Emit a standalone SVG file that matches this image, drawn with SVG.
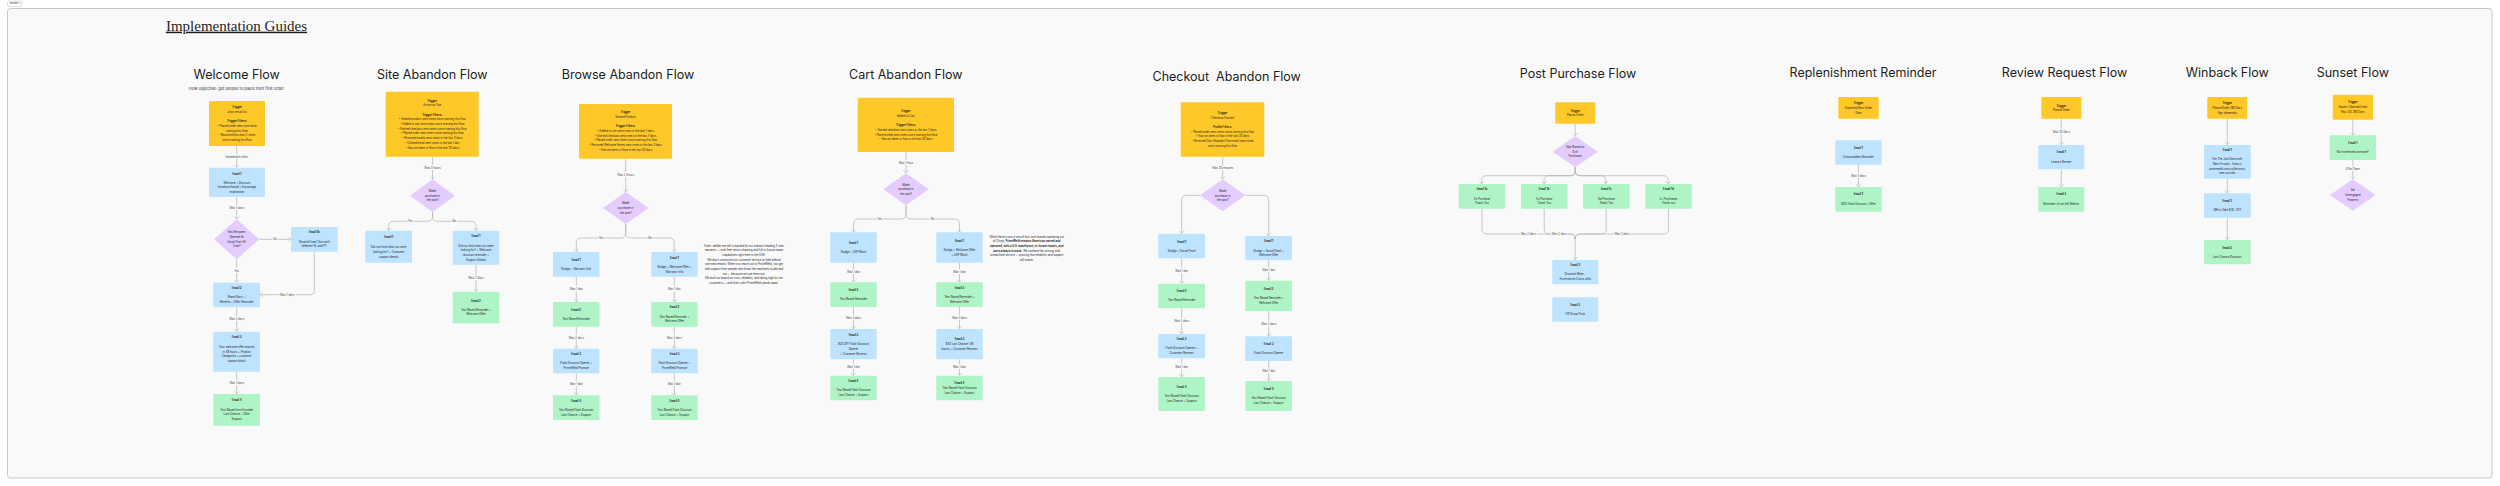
<svg xmlns="http://www.w3.org/2000/svg" width="2500" height="486" viewBox="0 0 2500 486">
<style>
.ttl{font-family:Inter,"Noto Sans",sans-serif;font-size:12.5px;fill:#1e1e1e;text-anchor:middle}
.t{font-family:Inter,"Noto Sans",sans-serif;font-size:2.75px;fill:#1e1e1e;text-anchor:middle;dominant-baseline:central}
.b{font-weight:700}
.lb{font-family:Inter,"Noto Sans",sans-serif;font-size:2.75px;fill:#444;text-anchor:middle;dominant-baseline:central;stroke:#F9F9F9;stroke-width:2;paint-order:stroke}
.c{fill:none;stroke:#B3B3B3;stroke-width:0.7}
.y{fill:#FFC829}.bl{fill:#BDE3FF}.g{fill:#AFF4C6}.p{fill:#E4CCFF}
</style>
<defs>
<marker id="ah" viewBox="-3 -3 3.5 6" refX="0" refY="0" markerWidth="3.5" markerHeight="6" markerUnits="userSpaceOnUse" orient="auto">
<path d="M-2.5,-2.5 L0,0 L-2.5,2.5" fill="none" stroke="#B3B3B3" stroke-width="0.6"/>
</marker>
</defs>
<rect x="0" y="0" width="2500" height="486" fill="#FFFFFF"/>
<g id="frame">
<rect x="7.5" y="8.5" width="2484.5" height="469.5" rx="3" fill="#F9F9F9" stroke="#C8C8C8" stroke-width="1"/>
<rect x="7.5" y="1.2" width="14.5" height="5.3" rx="1.5" fill="#FFFFFF" stroke="#BBBBBB" stroke-width="0.5"/>
<text x="14.7" y="3.9" class="t" style="font-size:2.3px">Section 1</text>
</g>
<g id="header">
<text x="236.5" y="30.7" style="font-family:'Liberation Serif',serif;font-size:15px;fill:#1e1e1e;text-anchor:middle;text-decoration:underline">Implementation Guides</text>
</g>
<g id="titles">
<text class="ttl" x="236.7" y="79.3">Welcome Flow</text>
<text x="236.3" y="89.5" style="font-family:Inter,'Noto Sans',sans-serif;font-size:4px;fill:#333;text-anchor:middle">Flow objective: get people to place their first order</text>
<text class="ttl" x="432.3" y="79.3">Site Abandon Flow</text>
<text class="ttl" x="628" y="79.3">Browse Abandon Flow</text>
<text class="ttl" x="905.8" y="79.3">Cart Abandon Flow</text>
<text class="ttl" x="1226.7" y="81.3" xml:space="preserve">Checkout  Abandon Flow</text>
<text class="ttl" x="1578" y="78.3">Post Purchase Flow</text>
<text class="ttl" x="1863" y="77.3">Replenishment Reminder</text>
<text class="ttl" x="2064.5" y="77.3">Review Request Flow</text>
<text class="ttl" x="2227.2" y="77.3">Winback Flow</text>
<text class="ttl" x="2352.8" y="77.3">Sunset Flow</text>
</g>
<g id="connectors">
<!-- Welcome -->
<path class="c" d="M236.7,146 V167.4" marker-end="url(#ah)"/>
<text class="lb" x="236.7" y="157">Immediately after</text>
<path class="c" d="M236.7,197 V219" marker-end="url(#ah)"/>
<text class="lb" x="236.7" y="208.3">Wait 1 days</text>
<path class="c" d="M259.3,239.3 H290.7" marker-end="url(#ah)"/>
<text class="lb" x="275" y="239.3">No</text>
<path class="c" d="M236.7,259.3 V282.4" marker-end="url(#ah)"/>
<text class="lb" x="236.7" y="271">Yes</text>
<path class="c" d="M314.3,251.7 V291.7 Q314.3,294.7 311.3,294.7 H260.3" marker-end="url(#ah)"/>
<text class="lb" x="287.3" y="294.7">Wait 1 days</text>
<path class="c" d="M236.7,307.3 V331.4" marker-end="url(#ah)"/>
<text class="lb" x="236.7" y="319.3">Wait 2 days</text>
<path class="c" d="M236.7,371.7 V393.7" marker-end="url(#ah)"/>
<text class="lb" x="236.7" y="382.7">Wait 1 days</text>
<!-- Site -->
<path class="c" d="M432.5,156.7 V179" marker-end="url(#ah)"/>
<text class="lb" x="432.5" y="168">Wait 3 hours</text>
<path class="c" d="M432.5,212 V216.3 Q432.5,221.3 427.5,221.3 H393.7 Q388.7,221.3 388.7,226.3 V230.4" marker-end="url(#ah)"/>
<path class="c" d="M432.5,212 V216.3 Q432.5,221.3 437.5,221.3 H471 Q476,221.3 476,226.3 V230.4" marker-end="url(#ah)"/>
<text class="lb" x="410.3" y="221.3">Yes</text>
<text class="lb" x="454" y="221.3">No</text>
<path class="c" d="M476,264.7 V291.4" marker-end="url(#ah)"/>
<text class="lb" x="476" y="278.3">Wait 2 Days</text>
<!-- Browse -->
<path class="c" d="M625.7,158.7 V191.7" marker-end="url(#ah)"/>
<text class="lb" x="625.7" y="175">Wait 2 Hours</text>
<path class="c" d="M625.7,224 V233 Q625.7,238 620.7,238 H581.3 Q576.3,238 576.3,243 V251.7" marker-end="url(#ah)"/>
<path class="c" d="M625.7,224 V233 Q625.7,238 630.7,238 H669.3 Q674.3,238 674.3,243 V251.7" marker-end="url(#ah)"/>
<text class="lb" x="601" y="238">Yes</text>
<text class="lb" x="650" y="238">No</text>
<path class="c" d="M576.3,276.7 V301.7" marker-end="url(#ah)"/>
<path class="c" d="M674.3,276.7 V301.7" marker-end="url(#ah)"/>
<text class="lb" x="576.3" y="289.3">Wait 1 day</text>
<text class="lb" x="674.3" y="289.3">Wait 1 day</text>
<path class="c" d="M576.3,326.7 V348.4" marker-end="url(#ah)"/>
<path class="c" d="M674.3,326.7 V348.4" marker-end="url(#ah)"/>
<text class="lb" x="576.3" y="337.7">Wait 2 days</text>
<text class="lb" x="674.3" y="337.7">Wait 2 days</text>
<path class="c" d="M576.3,373.3 V395" marker-end="url(#ah)"/>
<path class="c" d="M674.3,373.3 V395" marker-end="url(#ah)"/>
<text class="lb" x="576.3" y="384.3">Wait 1 day</text>
<text class="lb" x="674.3" y="384.3">Wait 1 day</text>
<!-- Cart -->
<path class="c" d="M906,152 V173" marker-end="url(#ah)"/>
<text class="lb" x="906" y="162.7">Wait 1 Hour</text>
<path class="c" d="M906,205.3 V214 Q906,219 901,219 H858.5 Q853.5,219 853.5,224 V232" marker-end="url(#ah)"/>
<path class="c" d="M906,205.3 V214 Q906,219 911,219 H954.5 Q959.5,219 959.5,224 V232" marker-end="url(#ah)"/>
<text class="lb" x="879.7" y="219">Yes</text>
<text class="lb" x="932.7" y="219">No</text>
<path class="c" d="M853.5,262.7 V282" marker-end="url(#ah)"/>
<path class="c" d="M959.5,262.7 V282" marker-end="url(#ah)"/>
<text class="lb" x="853.5" y="272.3">Wait 1 day</text>
<text class="lb" x="959.5" y="272.3">Wait 1 day</text>
<path class="c" d="M853.5,307 V328.7" marker-end="url(#ah)"/>
<path class="c" d="M959.5,307 V328.7" marker-end="url(#ah)"/>
<text class="lb" x="853.5" y="317.7">Wait 2 days</text>
<text class="lb" x="959.5" y="317.7">Wait 2 days</text>
<path class="c" d="M853.5,359.3 V375.4" marker-end="url(#ah)"/>
<path class="c" d="M959.5,359.3 V375.4" marker-end="url(#ah)"/>
<text class="lb" x="853.5" y="367.3">Wait 1 day</text>
<text class="lb" x="959.5" y="367.3">Wait 1 day</text>
<!-- Checkout -->
<path class="c" d="M1222.7,156.7 V179" marker-end="url(#ah)"/>
<text class="lb" x="1222.7" y="167.7">Wait 30 minutes</text>
<path class="c" d="M1200,195.3 H1186.7 Q1181.7,195.3 1181.7,200.3 V233.4" marker-end="url(#ah)"/>
<path class="c" d="M1245.3,195.3 H1263.7 Q1268.7,195.3 1268.7,200.3 V235.7" marker-end="url(#ah)"/>
<path class="c" d="M1181.7,258.3 V283.4" marker-end="url(#ah)"/>
<text class="lb" x="1181.7" y="271">Wait 1 day</text>
<path class="c" d="M1181.7,308.3 V333.7" marker-end="url(#ah)"/>
<text class="lb" x="1181.7" y="321">Wait 2 days</text>
<path class="c" d="M1181.7,358.3 V376.7" marker-end="url(#ah)"/>
<text class="lb" x="1181.7" y="367.3">Wait 1 day</text>
<path class="c" d="M1268.7,260.3 V280.4" marker-end="url(#ah)"/>
<text class="lb" x="1268.7" y="270.3">Wait 1 day</text>
<path class="c" d="M1268.7,311 V336" marker-end="url(#ah)"/>
<text class="lb" x="1268.7" y="323.7">Wait 2 days</text>
<path class="c" d="M1268.7,361 V380.7" marker-end="url(#ah)"/>
<text class="lb" x="1268.7" y="371">Wait 1 day</text>
<!-- Post Purchase -->
<path class="c" d="M1575.2,123.7 V135.7" marker-end="url(#ah)"/>
<path class="c" d="M1575.2,167.3 V170.7 Q1575.2,175.7 1570.2,175.7 H1486.7 Q1481.7,175.7 1481.7,180.7 V183.7" marker-end="url(#ah)"/>
<path class="c" d="M1575.2,167.3 V170.7 Q1575.2,175.7 1570.2,175.7 H1549 Q1544,175.7 1544,180.7 V183.7" marker-end="url(#ah)"/>
<path class="c" d="M1575.2,167.3 V170.7 Q1575.2,175.7 1580.2,175.7 H1600.7 Q1605.7,175.7 1605.7,180.7 V183.7" marker-end="url(#ah)"/>
<path class="c" d="M1575.2,167.3 V170.7 Q1575.2,175.7 1580.2,175.7 H1663.3 Q1668.3,175.7 1668.3,180.7 V183.7" marker-end="url(#ah)"/>
<path class="c" d="M1482,208.7 V229 Q1482,234 1487,234 H1570.2 Q1575.2,234 1575.2,239 V259.7" marker-end="url(#ah)"/>
<path class="c" d="M1544.2,208.7 V229 Q1544.2,234 1549.2,234 H1570.2 Q1575.2,234 1575.2,239"/>
<path class="c" d="M1606.2,208.7 V229 Q1606.2,234 1601.2,234 H1580.2 Q1575.2,234 1575.2,239"/>
<path class="c" d="M1668.5,208.7 V229 Q1668.5,234 1663.5,234 H1580.2 Q1575.2,234 1575.2,239"/>
<text class="lb" x="1528.3" y="234">Wait 2 days</text>
<text class="lb" x="1559.3" y="234">Wait 2 days</text>
<text class="lb" x="1622" y="234">Wait 2 days</text>
<!-- Replenishment -->
<path class="c" d="M1858.5,164.7 V186.7" marker-end="url(#ah)"/>
<text class="lb" x="1858.5" y="176">Wait 7 days</text>
<!-- Review -->
<path class="c" d="M2061.3,118.7 V144.7" marker-end="url(#ah)"/>
<text class="lb" x="2061.3" y="131.7">Wait 30 Days</text>
<path class="c" d="M2061.3,169.3 V186.7" marker-end="url(#ah)"/>
<!-- Winback -->
<path class="c" d="M2227.3,118.7 V144.7" marker-end="url(#ah)"/>
<path class="c" d="M2227.3,178.7 V193" marker-end="url(#ah)"/>
<path class="c" d="M2227.3,217.7 V239.7" marker-end="url(#ah)"/>
<!-- Sunset -->
<path class="c" d="M2352.8,119.7 V135" marker-end="url(#ah)"/>
<path class="c" d="M2352.8,160 V179" marker-end="url(#ah)"/>
<text class="lb" x="2352.8" y="169.3">If No Open</text>
</g>

<!-- ===== Welcome Flow ===== -->
<g id="w-trigger">
<rect class="y" x="209" y="101" width="56" height="45" rx="1"/>
<text class="t b" x="237" y="107">Trigger</text>
<text class="t" x="237" y="112">Joins email list</text>
<text class="t b" x="237" y="121">Trigger Filters:</text>
<text class="t" x="237" y="126">•  Placed order zero time since</text>
<text class="t" x="237" y="130.7">starting this flow</text>
<text class="t" x="237" y="135.3">•  Bounced less than 2 times</text>
<text class="t" x="237" y="140">since starting this flow</text>
</g>
<g id="w-email1">
<rect class="bl" x="209" y="167.7" width="56" height="29.3" rx="1"/>
<text class="t b" x="237" y="173.7">Email 1</text>
<text class="t" x="237" y="182.7">Welcome + Discount</text>
<text class="t" x="237" y="187.3">Introduce brand + Encourage</text>
<text class="t" x="237" y="192">exploration</text>
</g>
<g id="w-split">
<polygon class="p" points="236.7,219.3 259.3,239.3 236.7,259.3 214,239.3"/>
<text class="t" x="236.7" y="232.3">Has Recipient</text>
<text class="t" x="236.7" y="237">Opened An</text>
<text class="t" x="236.7" y="241.7">Email Over All</text>
<text class="t" x="236.7" y="246.4">Time?</text>
</g>
<g id="w-email1b">
<rect class="bl" x="291" y="227" width="46.7" height="24.7" rx="1"/>
<text class="t b" x="314.3" y="232.3">Email 1b</text>
<text class="t" x="314.3" y="241.7">Resend Email 1 but with</text>
<text class="t" x="314.3" y="246.3">different SL and PT</text>
</g>
<g id="w-email2">
<rect class="bl" x="213.3" y="282.7" width="46.7" height="24.6" rx="1"/>
<text class="t b" x="236.7" y="287.7">Email 2</text>
<text class="t" x="236.7" y="297">Brand Story +</text>
<text class="t" x="236.7" y="301.7">Benefits + Offer Reminder</text>
</g>
<g id="w-email3">
<rect class="bl" x="213.3" y="331.7" width="46.7" height="40" rx="1"/>
<text class="t b" x="236.7" y="337.3">Email 3</text>
<text class="t" x="236.7" y="347">Your welcome offer expires</text>
<text class="t" x="236.7" y="351.7">in 48 hours + Product</text>
<text class="t" x="236.7" y="356.3">Categories + customer</text>
<text class="t" x="236.7" y="361">support block</text>
</g>
<g id="w-email4">
<rect class="g" x="213.3" y="394" width="46.7" height="31.7" rx="1"/>
<text class="t b" x="236.7" y="400.3">Email 4</text>
<text class="t" x="236.7" y="409.7">Text Based from Founder</text>
<text class="t" x="236.7" y="414.3">Last Chance + Offer</text>
<text class="t" x="236.7" y="419">Support</text>
</g>

<!-- ===== Site Abandon ===== -->
<g id="s-trigger">
<rect class="y" x="385.7" y="91.7" width="93" height="65" rx="1"/>
<text class="t b" x="432.2" y="100.7">Trigger</text>
<text class="t" x="432.2" y="105.3">Active on Site</text>
<text class="t b" x="432.2" y="114.7">Trigger Filters:</text>
<text class="t" x="432.2" y="119.3">•  Viewed product zero times since starting this flow</text>
<text class="t" x="432.2" y="124">•  Added to cart zero times since starting this flow</text>
<text class="t" x="432.2" y="128.7">•  Started checkout zero times since starting this flow</text>
<text class="t" x="432.2" y="133.3">•  Placed order zero times since starting this flow</text>
<text class="t" x="432.2" y="138">•  Received emails zero times in the last 3 days</text>
<text class="t" x="432.2" y="142.7">•  Clicked email zero times in the last 1 day</text>
<text class="t" x="432.2" y="147.7">•  Has not been in flow in the last 30 days</text>
</g>
<g id="s-split">
<polygon class="p" points="432.5,179.3 455,195.7 432.5,212 410,195.7"/>
<text class="t" x="432.5" y="191">Made</text>
<text class="t" x="432.5" y="195.7">purchase in</text>
<text class="t" x="432.5" y="200.4">the past?</text>
</g>
<g id="s-yes-email1">
<rect class="bl" x="365.3" y="230.7" width="46.7" height="32" rx="1"/>
<text class="t b" x="388.7" y="237.3">Email 1</text>
<text class="t" x="388.7" y="247.3">Did you find what you were</text>
<text class="t" x="388.7" y="252">looking for? + Customer</text>
<text class="t" x="388.7" y="256.7">support details</text>
</g>
<g id="s-no-email1">
<rect class="bl" x="452.7" y="230.7" width="46.6" height="34" rx="1"/>
<text class="t b" x="476" y="236.3">Email 1</text>
<text class="t" x="476" y="245.7">Did you find what you were</text>
<text class="t" x="476" y="250.3">looking for? + Welcome</text>
<text class="t" x="476" y="255">discount reminder +</text>
<text class="t" x="476" y="259.6">Support Details</text>
</g>
<g id="s-no-email2">
<rect class="g" x="452.7" y="291.7" width="46.6" height="31.6" rx="1"/>
<text class="t b" x="476" y="300.7">Email 2</text>
<text class="t" x="476" y="309.7">Text Based Reminder +</text>
<text class="t" x="476" y="314.3">Welcome Offer</text>
</g>

<!-- ===== Browse Abandon ===== -->
<g id="b-trigger">
<rect class="y" x="579" y="104" width="93" height="54.7" rx="1"/>
<text class="t b" x="625.5" y="112.3">Trigger</text>
<text class="t" x="625.5" y="117">Viewed Product</text>
<text class="t b" x="625.5" y="126.3">Trigger Filters:</text>
<text class="t" x="625.5" y="131">•  Added to cart zero times in the last 7 days</text>
<text class="t" x="625.5" y="135.7">•  Started checkout zero times in the last 7 days</text>
<text class="t" x="625.5" y="140.3">•  Placed order zero times since starting this flow</text>
<text class="t" x="625.5" y="145">•  Received Welcome Series zero times in the last 3 days</text>
<text class="t" x="625.5" y="149.7">•  Has not been in flow in the last 30 days</text>
</g>
<g id="b-split">
<polygon class="p" points="625.7,192 648.4,208 625.7,224 603,208"/>
<text class="t" x="625.7" y="203.3">Made</text>
<text class="t" x="625.7" y="208">purchase in</text>
<text class="t" x="625.7" y="212.7">the past?</text>
</g>
<g id="b-yes-email1">
<rect class="bl" x="553" y="252" width="46.4" height="24.7" rx="1"/>
<text class="t b" x="576.2" y="260">Email 1</text>
<text class="t" x="576.2" y="269.3">Nudge + Warranty Info</text>
</g>
<g id="b-yes-email2">
<rect class="g" x="553" y="302" width="46.4" height="24.7" rx="1"/>
<text class="t b" x="576.2" y="309.7">Email 2</text>
<text class="t" x="576.2" y="319">Text Based Reminder</text>
</g>
<g id="b-yes-email3">
<rect class="bl" x="553" y="348.7" width="46.4" height="24.6" rx="1"/>
<text class="t b" x="576.2" y="354">Email 3</text>
<text class="t" x="576.2" y="363.3">Flash Discount Opener +</text>
<text class="t" x="576.2" y="368">PrimeWeld Promise</text>
</g>
<g id="b-yes-email4">
<rect class="g" x="553" y="395.3" width="46.4" height="24.7" rx="1"/>
<text class="t b" x="576.2" y="400.7">Email 4</text>
<text class="t" x="576.2" y="410">Text Based Flash Discount</text>
<text class="t" x="576.2" y="414.7">Last Chance + Support</text>
</g>
<g id="b-no-email1">
<rect class="bl" x="651.3" y="252" width="46.4" height="24.7" rx="1"/>
<text class="t b" x="674.5" y="257.7">Email 1</text>
<text class="t" x="674.5" y="267">Nudge + Welcome Offer +</text>
<text class="t" x="674.5" y="271.7">Warranty Info</text>
</g>
<g id="b-no-email2">
<rect class="g" x="651.3" y="302" width="46.4" height="24.7" rx="1"/>
<text class="t b" x="674.5" y="307.3">Email 2</text>
<text class="t" x="674.5" y="316.7">Text Based Reminder +</text>
<text class="t" x="674.5" y="321.3">Welcome Offer</text>
</g>
<g id="b-no-email3">
<rect class="bl" x="651.3" y="348.7" width="46.4" height="24.6" rx="1"/>
<text class="t b" x="674.5" y="354">Email 3</text>
<text class="t" x="674.5" y="363.3">Flash Discount Opener +</text>
<text class="t" x="674.5" y="368">PrimeWeld Promise</text>
</g>
<g id="b-no-email4">
<rect class="g" x="651.3" y="395.3" width="46.4" height="24.7" rx="1"/>
<text class="t b" x="674.5" y="400.7">Email 4</text>
<text class="t" x="674.5" y="410">Text Based Flash Discount</text>
<text class="t" x="674.5" y="414.7">Last Chance + Support</text>
</g>
<g id="b-note">
<text class="t" x="744" y="245.7">Every welder we sell is backed by our industry leading 3 year</text>
<text class="t" x="744" y="250.3">warranty — with free return shipping and full in-house repair</text>
<text class="t" x="744" y="255">capabilities right here in the USA.</text>
<text class="t" x="744" y="259.7">We don't outsource our customer service or hide behind</text>
<text class="t" x="744" y="264.3">overseas emails. When you reach out to PrimeWeld, you get</text>
<text class="t" x="744" y="269">real support from people who know the machines inside and</text>
<text class="t" x="744" y="273.7">out — because we use them too.</text>
<text class="t" x="744" y="278.3">We built our brand on trust, reliability, and doing right by our</text>
<text class="t" x="744" y="283">customers — and that's why PrimeWeld stands apart.</text>
</g>

<!-- ===== Cart Abandon ===== -->
<g id="c-trigger">
<rect class="y" x="857.7" y="97.7" width="96.3" height="54.3" rx="1"/>
<text class="t b" x="905.8" y="111.3">Trigger</text>
<text class="t" x="905.8" y="116">Added to Cart</text>
<text class="t b" x="905.8" y="125.3">Trigger Filters:</text>
<text class="t" x="905.8" y="130">•  Started checkout zero times in the last 7 days</text>
<text class="t" x="905.8" y="134.7">•  Placed order zero times since starting this flow</text>
<text class="t" x="905.8" y="139.3">•  Has not been in flow in the last 30 days</text>
</g>
<g id="c-split">
<polygon class="p" points="906,173.3 928.7,189.3 906,205.3 883.3,189.3"/>
<text class="t" x="906" y="184.7">Made</text>
<text class="t" x="906" y="189.3">purchase in</text>
<text class="t" x="906" y="194">the past?</text>
</g>
<g id="c-yes-email1">
<rect class="bl" x="830.3" y="232.3" width="46.4" height="30.4" rx="1"/>
<text class="t b" x="853.5" y="243">Email 1</text>
<text class="t" x="853.5" y="252.3">Nudge + USP Block</text>
</g>
<g id="c-yes-email2">
<rect class="g" x="830.3" y="282.3" width="46.4" height="24.7" rx="1"/>
<text class="t b" x="853.5" y="290">Email 2</text>
<text class="t" x="853.5" y="299.3">Text Based Reminder</text>
</g>
<g id="c-yes-email3">
<rect class="bl" x="830.3" y="329" width="46.4" height="30.3" rx="1"/>
<text class="t b" x="853.5" y="335">Email 3</text>
<text class="t" x="853.5" y="344.3">$20 OFF Flash Discount</text>
<text class="t" x="853.5" y="349">Opener</text>
<text class="t" x="853.5" y="353.7">+ Customer Reviews</text>
</g>
<g id="c-yes-email4">
<rect class="g" x="830.3" y="375.7" width="46.4" height="24.6" rx="1"/>
<text class="t b" x="853.5" y="381">Email 4</text>
<text class="t" x="853.5" y="390">Text Based Flash Discount</text>
<text class="t" x="853.5" y="394.7">Last Chance + Support</text>
</g>
<g id="c-no-email1">
<rect class="bl" x="936.3" y="232.3" width="46.4" height="30.4" rx="1"/>
<text class="t b" x="959.5" y="240.7">Email 1</text>
<text class="t" x="959.5" y="250">Nudge + Welcome Offer</text>
<text class="t" x="959.5" y="254.7">+ USP Block</text>
</g>
<g id="c-no-email2">
<rect class="g" x="936.3" y="282.3" width="46.4" height="24.7" rx="1"/>
<text class="t b" x="959.5" y="287.7">Email 2</text>
<text class="t" x="959.5" y="297">Text Based Reminder +</text>
<text class="t" x="959.5" y="301.7">Welcome Offer</text>
</g>
<g id="c-no-email3">
<rect class="bl" x="936.3" y="329" width="46.4" height="30.3" rx="1"/>
<text class="t b" x="959.5" y="339.3">Email 3</text>
<text class="t" x="959.5" y="344">$30 Last Chance (48</text>
<text class="t" x="959.5" y="348.7">hours) + Customer Reviews</text>
</g>
<g id="c-no-email4">
<rect class="g" x="936.3" y="375.7" width="46.4" height="24.6" rx="1"/>
<text class="t b" x="959.5" y="383.3">Email 4</text>
<text class="t" x="959.5" y="388">Text Based Flash Discount</text>
<text class="t" x="959.5" y="392.7">Last Chance + Support</text>
</g>
<g id="c-note">
<text class="t" x="1026.7" y="236.7">While there's now a sea of low-cost brands operating out</text>
<text class="t" x="1026.7" y="241.3">of China, <tspan class="b">PrimeWeld remains American owned and</tspan></text>
<text class="t b" x="1026.7" y="246">operated, with a U.S. warehouse, in-house repairs, and</text>
<text class="t" x="1026.7" y="250.7"><tspan class="b">parts always in stock.</tspan> We combine fair pricing with</text>
<text class="t" x="1026.7" y="255.3">unmatched service — proving that reliability and support</text>
<text class="t" x="1026.7" y="260">still matter.</text>
</g>

<!-- ===== Checkout Abandon ===== -->
<g id="k-trigger">
<rect class="y" x="1180.7" y="102.3" width="83.6" height="54.4" rx="1"/>
<text class="t b" x="1222.5" y="113">Trigger</text>
<text class="t" x="1222.5" y="117.7">Checkout Started</text>
<text class="t b" x="1222.5" y="127">Profile Filters:</text>
<text class="t" x="1222.5" y="131.7">•  Placed order zero times since starting this flow</text>
<text class="t" x="1222.5" y="136.3">•  Has not been in flow in the last 30 days</text>
<text class="t" x="1222.5" y="141">•  Received Cart Abandon Flow email zero times</text>
<text class="t" x="1222.5" y="145.7">since starting this flow</text>
</g>
<g id="k-split">
<polygon class="p" points="1222.7,179.3 1245.3,195.3 1222.7,211.3 1200,195.3"/>
<text class="t" x="1222.7" y="191">Made</text>
<text class="t" x="1222.7" y="195.7">purchase in</text>
<text class="t" x="1222.7" y="200.3">the past?</text>
</g>
<g id="k-l-email1">
<rect class="bl" x="1158.3" y="233.7" width="46.7" height="24.6" rx="1"/>
<text class="t b" x="1181.7" y="241.7">Email 1</text>
<text class="t" x="1181.7" y="251">Nudge + Social Proof</text>
</g>
<g id="k-l-email2">
<rect class="g" x="1158.3" y="283.7" width="46.7" height="24.6" rx="1"/>
<text class="t b" x="1181.7" y="291">Email 2</text>
<text class="t" x="1181.7" y="300.3">Text Based Reminder</text>
</g>
<g id="k-l-email3">
<rect class="bl" x="1158.3" y="334" width="46.7" height="24.3" rx="1"/>
<text class="t b" x="1181.7" y="338.7">Email 3</text>
<text class="t" x="1181.7" y="348">Flash Discount Opener +</text>
<text class="t" x="1181.7" y="353.3">Customer Reviews</text>
</g>
<g id="k-l-email4">
<rect class="g" x="1158.3" y="377" width="46.7" height="34" rx="1"/>
<text class="t b" x="1181.7" y="387.3">Email 4</text>
<text class="t" x="1181.7" y="396.3">Text Based Flash Discount</text>
<text class="t" x="1181.7" y="401">Last Chance + Support</text>
</g>
<g id="k-r-email1">
<rect class="bl" x="1245.3" y="236" width="46.7" height="24.3" rx="1"/>
<text class="t b" x="1268.7" y="241.3">Email 1</text>
<text class="t" x="1268.7" y="250.7">Nudge + Social Proof +</text>
<text class="t" x="1268.7" y="255.3">Welcome Offer</text>
</g>
<g id="k-r-email2">
<rect class="g" x="1245.3" y="280.7" width="46.7" height="30.3" rx="1"/>
<text class="t b" x="1268.7" y="289">Email 2</text>
<text class="t" x="1268.7" y="298.3">Text Based Reminder +</text>
<text class="t" x="1268.7" y="303">Welcome Offer</text>
</g>
<g id="k-r-email3">
<rect class="bl" x="1245.3" y="336.3" width="46.7" height="24.7" rx="1"/>
<text class="t b" x="1268.7" y="344.3">Email 3</text>
<text class="t" x="1268.7" y="353.3">Flash Discount Opener</text>
</g>
<g id="k-r-email4">
<rect class="g" x="1245.3" y="381" width="46.7" height="30" rx="1"/>
<text class="t b" x="1268.7" y="389.3">Email 4</text>
<text class="t" x="1268.7" y="398.3">Text Based Flash Discount</text>
<text class="t" x="1268.7" y="403">Last Chance + Support</text>
</g>

<!-- ===== Post Purchase ===== -->
<g id="pp-trigger">
<rect class="y" x="1555.3" y="102.3" width="40" height="21.4" rx="1"/>
<text class="t b" x="1575.3" y="110.7">Trigger</text>
<text class="t" x="1575.3" y="115.3">Places Order</text>
</g>
<g id="pp-split">
<polygon class="p" points="1575.2,136 1597.7,151.7 1575.2,167.3 1552.7,151.7"/>
<text class="t" x="1575.2" y="147">Split Based on</text>
<text class="t" x="1575.2" y="151.7"># of</text>
<text class="t" x="1575.2" y="156.3">Purchases</text>
</g>
<g id="pp-email1a">
<rect class="g" x="1458.7" y="184" width="46.6" height="24.7" rx="1"/>
<text class="t b" x="1482" y="189.3">Email 1a</text>
<text class="t" x="1482" y="198.7">1st Purchase</text>
<text class="t" x="1482" y="203.3">Thank You</text>
</g>
<g id="pp-email1b">
<rect class="g" x="1521" y="184" width="46.4" height="24.7" rx="1"/>
<text class="t b" x="1544.2" y="189.3">Email 1b</text>
<text class="t" x="1544.2" y="198.7">1st Purchase</text>
<text class="t" x="1544.2" y="203.3">Thank You</text>
</g>
<g id="pp-email1c">
<rect class="g" x="1583" y="184" width="46.6" height="24.7" rx="1"/>
<text class="t b" x="1606.3" y="189.3">Email 1c</text>
<text class="t" x="1606.3" y="198.7">3rd Purchase</text>
<text class="t" x="1606.3" y="203.3">Thank You</text>
</g>
<g id="pp-email1d">
<rect class="g" x="1645.3" y="184" width="46.4" height="24.7" rx="1"/>
<text class="t b" x="1668.5" y="189.3">Email 1d</text>
<text class="t" x="1668.5" y="198.7">4+ Purchases</text>
<text class="t" x="1668.5" y="203.3">Thank you</text>
</g>
<g id="pp-email2">
<rect class="bl" x="1552.3" y="260" width="46" height="24.3" rx="1"/>
<text class="t b" x="1575.3" y="265.3">Email 2</text>
<text class="t" x="1575.3" y="274.3">Discover More -</text>
<text class="t" x="1575.3" y="279">Accessories Cross-sells</text>
</g>
<g id="pp-email3">
<rect class="bl" x="1552.3" y="297.3" width="46" height="24.4" rx="1"/>
<text class="t b" x="1575.3" y="304.7">Email 3</text>
<text class="t" x="1575.3" y="314">FB Group Push</text>
</g>

<!-- ===== Replenishment ===== -->
<g id="r-trigger">
<rect class="y" x="1838.3" y="97" width="40.4" height="21.7" rx="1"/>
<text class="t b" x="1858.5" y="103.3">Trigger</text>
<text class="t" x="1858.5" y="108">Expected Next Order</text>
<text class="t" x="1858.5" y="112.7">Date</text>
</g>
<g id="r-email1">
<rect class="bl" x="1835.3" y="140.3" width="46.4" height="24.4" rx="1"/>
<text class="t b" x="1858.5" y="147.7">Email 1</text>
<text class="t" x="1858.5" y="157">Consumables Reminder</text>
</g>
<g id="r-email2">
<rect class="g" x="1835.3" y="187" width="46.4" height="24.7" rx="1"/>
<text class="t b" x="1858.5" y="194.3">Email 2</text>
<text class="t" x="1858.5" y="204">$XX Flash Discount / Offer</text>
</g>

<!-- ===== Review Request ===== -->
<g id="rv-trigger">
<rect class="y" x="2041.3" y="97" width="40" height="21.7" rx="1"/>
<text class="t b" x="2061.3" y="105.7">Trigger</text>
<text class="t" x="2061.3" y="110.3">Placed Order</text>
</g>
<g id="rv-email1">
<rect class="bl" x="2038.3" y="145" width="46" height="24.3" rx="1"/>
<text class="t b" x="2061.3" y="152.3">Email 1</text>
<text class="t" x="2061.3" y="161.7">Leave a Review</text>
</g>
<g id="rv-email2">
<rect class="g" x="2038.3" y="187" width="46" height="24.7" rx="1"/>
<text class="t b" x="2061.3" y="194.3">Email 2</text>
<text class="t" x="2061.3" y="204">Reminder (if not left Before)</text>
</g>

<!-- ===== Winback ===== -->
<g id="wb-trigger">
<rect class="y" x="2207.3" y="97" width="40" height="21.7" rx="1"/>
<text class="t b" x="2227.3" y="103.3">Trigger</text>
<text class="t" x="2227.3" y="108">Placed Order 180 Days</text>
<text class="t" x="2227.3" y="112.7">Ago (depends)</text>
</g>
<g id="wb-email1">
<rect class="bl" x="2204" y="145" width="46.7" height="33.7" rx="1"/>
<text class="t b" x="2227.3" y="150">Email 1</text>
<text class="t" x="2227.3" y="159.3">Get The Job Done with</text>
<text class="t" x="2227.3" y="164">New Arrivals - https://</text>
<text class="t" x="2227.3" y="168.7">primeweld.com/collections/</text>
<text class="t" x="2227.3" y="173.3">new-arrivals</text>
</g>
<g id="wb-email2">
<rect class="bl" x="2204" y="193.3" width="46.7" height="24.4" rx="1"/>
<text class="t b" x="2227.3" y="201">Email 2</text>
<text class="t" x="2227.3" y="210.3">48Hrs Take $30- OFF</text>
</g>
<g id="wb-email3">
<rect class="g" x="2204" y="240" width="46.7" height="24.3" rx="1"/>
<text class="t b" x="2227.3" y="247.7">Email 3</text>
<text class="t" x="2227.3" y="257">Last Chance Discount</text>
</g>

<!-- ===== Sunset ===== -->
<g id="ss-trigger">
<rect class="y" x="2332.7" y="94.7" width="40.3" height="25" rx="1"/>
<text class="t b" x="2352.8" y="102.3">Trigger</text>
<text class="t" x="2352.8" y="107">Haven't Opened Email</text>
<text class="t" x="2352.8" y="111.7">Past 120-180 Days</text>
</g>
<g id="ss-email1">
<rect class="g" x="2329.7" y="135.3" width="46.3" height="24.7" rx="1"/>
<text class="t b" x="2352.8" y="143">Email 1</text>
<text class="t" x="2352.8" y="152.3">Not Interested anymore?</text>
</g>
<g id="ss-split">
<polygon class="p" points="2352.8,179.3 2375.6,195 2352.8,210.7 2330,195"/>
<text class="t" x="2352.8" y="190">Set</text>
<text class="t" x="2352.8" y="195">Unengaged</text>
<text class="t" x="2352.8" y="199.7">Property</text>
</g>
</svg>
